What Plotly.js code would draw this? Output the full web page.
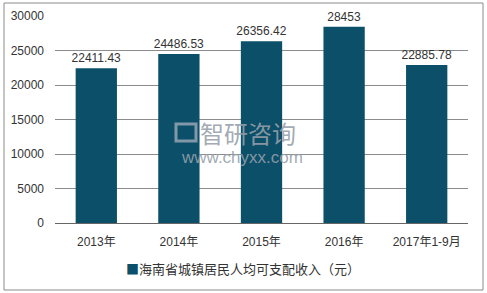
<!DOCTYPE html>
<html>
<head>
<meta charset="utf-8">
<script src="https://cdn.plot.ly/plotly-3.0.1.min.js"></script>
<style>
html,body{margin:0;padding:0;background:#fff;}
#chart{width:487px;height:293px;}
</style>
</head>
<body>
<div id="chart"></div>
<script>
const categories = ["2013年", "2014年", "2015年", "2016年", "2017年1-9月"];
const values = [22411.43, 24486.53, 26356.42, 28453, 22885.78];
const valueLabels = ["22411.43", "24486.53", "26356.42", "28453", "22885.78"];
const seriesName = "海南省城镇居民人均可支配收入（元）";
const yTicks = [0, 5000, 10000, 15000, 20000, 25000, 30000];

const FONT = "Liberation Sans, Arial, Noto Sans CJK SC, sans-serif";
const barColor = "#0c4f69";

const L = 55, R = 19, T = 16, B = 70;
const W = 487, H = 293;
const pw = W - L - R, ph = H - T - B;
function px(x){ return (x - L) / pw; }
function py(y){ return (H - B - y) / ph; }

const trace = {
  type: "bar",
  x: categories,
  y: values,
  name: seriesName,
  marker: {color: barColor},
  text: valueLabels,
  textposition: "outside",
  constraintext: "none",
  textfont: {family: FONT, size: 12, color: "#333"},
  cliponaxis: false,
  showlegend: false,
  hoverinfo: "none"
};

const layout = {
  width: W, height: H,
  margin: {l: L, r: R, t: T, b: B, pad: 0},
  paper_bgcolor: "#fff",
  plot_bgcolor: "#fff",
  bargap: 0.5,
  showlegend: false,
  font: {family: FONT, size: 12, color: "#333"},
  xaxis: {
    type: "category",
    showgrid: false,
    showline: true,
    linecolor: "#666",
    linewidth: 1,
    ticks: "",
    ticklabelstandoff: 8,
    tickfont: {family: FONT, size: 12, color: "#333"},
    fixedrange: true
  },
  yaxis: {
    range: [0, 30000],
    tickvals: yTicks,
    ticktext: yTicks.map(String),
    showgrid: true,
    gridcolor: "#8c8c8c",
    gridwidth: 1,
    zeroline: false,
    showline: false,
    ticks: "",
    ticklabelstandoff: 10,
    tickfont: {family: FONT, size: 12, color: "#333"},
    fixedrange: true
  },
  shapes: [
    {type: "rect", xref: "paper", yref: "paper",
     x0: px(4), x1: px(483), y0: py(290), y1: py(3),
     line: {color: "#8a8a8a", width: 1}, fillcolor: "rgba(0,0,0,0)", layer: "below"},
    {type: "rect", xref: "paper", yref: "paper",
     x0: px(176), x1: px(196), y0: py(141), y1: py(124),
     line: {color: "rgba(150,165,180,0.85)", width: 3}, fillcolor: "rgba(0,0,0,0)", layer: "above"}
  ],
  annotations: [
    {xref: "paper", yref: "paper", x: px(198), y: py(132), xanchor: "left", yanchor: "middle",
     text: "智研咨询", showarrow: false,
     font: {family: "Noto Sans CJK SC, sans-serif", size: 24, color: "rgba(150,160,170,0.9)"}},
    {xref: "paper", yref: "paper", x: px(242), y: py(157), xanchor: "center", yanchor: "middle",
     text: "www.chyxx.com", showarrow: false,
     font: {family: FONT, size: 17, color: "rgba(150,160,170,0.9)"}},
    {xref: "paper", yref: "paper", x: px(243), y: py(268), xanchor: "center", yanchor: "middle",
     text: "<span style='color:" + barColor + "'>■</span>" + seriesName, showarrow: false,
     font: {family: "Noto Sans CJK SC, sans-serif", size: 13, color: "#333"}}
  ]
};

Plotly.newPlot("chart", [trace], layout, {displayModeBar: false, staticPlot: true});
</script>
</body>
</html>
